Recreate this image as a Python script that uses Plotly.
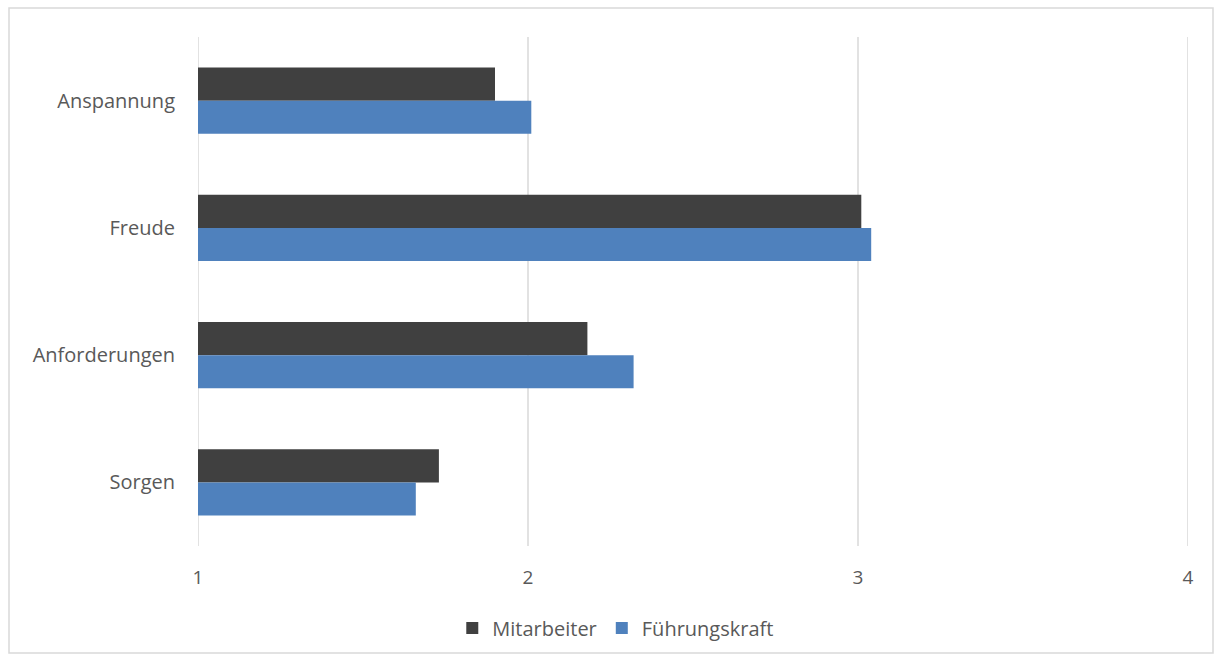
import plotly.graph_objects as go

categories = ["Anspannung", "Freude", "Anforderungen", "Sorgen"]
mitarbeiter = [1.90, 3.01, 2.18, 1.73]
fuehrungskraft = [2.01, 3.04, 2.32, 1.66]
x_ticks = [1, 2, 3, 4]

W, H = 1219, 661
ml, mr, mt, mb = 198, 31, 37, 115
ph = H - mt - mb

fig = go.Figure()
fig.add_trace(go.Bar(y=categories, x=mitarbeiter, orientation="h",
                     name="Mitarbeiter", marker=dict(color="#404040", line=dict(width=0))))
fig.add_trace(go.Bar(y=categories, x=fuehrungskraft, orientation="h",
                     name="Führungskraft", marker=dict(color="#4F81BD", line=dict(width=0))))

shapes = [dict(type="rect", xref="paper", yref="paper",
               x0=(9 - ml) / (W - ml - mr), x1=(1213 - ml) / (W - ml - mr),
               y0=(H - mb - 653) / ph, y1=(H - mb - 8) / ph,
               line=dict(color="#D9D9D9", width=1.5), layer="below")]
for t in x_ticks:
    shapes.append(dict(type="line", xref="x", yref="paper", x0=t, x1=t, y0=0, y1=1,
                       line=dict(color="#D9D9D9", width=1.5), layer="below"))

fig.update_layout(
    width=W, height=H,
    margin=dict(l=ml, r=mr, t=mt, b=mb, autoexpand=False),
    paper_bgcolor="white", plot_bgcolor="white",
    font=dict(family="Open Sans, sans-serif", size=19, color="#595959"),
    barmode="group", bargap=0.48, bargroupgap=0,
    showlegend=True,
    legend=dict(orientation="h", x=0.422, xanchor="center", y=-(628 - (H - mb)) / ph,
                yanchor="middle", bgcolor="rgba(0,0,0,0)",
                font=dict(size=20, color="#595959"), itemwidth=30, tracegroupgap=0),
    xaxis=dict(range=[1, 4], tickvals=x_ticks, ticktext=[str(v) for v in x_ticks],
               showgrid=False, zeroline=False, showline=False, ticks="",
               ticklabelstandoff=18, automargin=False, tickfont=dict(size=19)),
    yaxis=dict(autorange="reversed", showgrid=False, showline=False, ticks="",
               ticklabelstandoff=22, automargin=False, tickfont=dict(size=20)),
    shapes=shapes,
)

fig.write_html("out.html")
